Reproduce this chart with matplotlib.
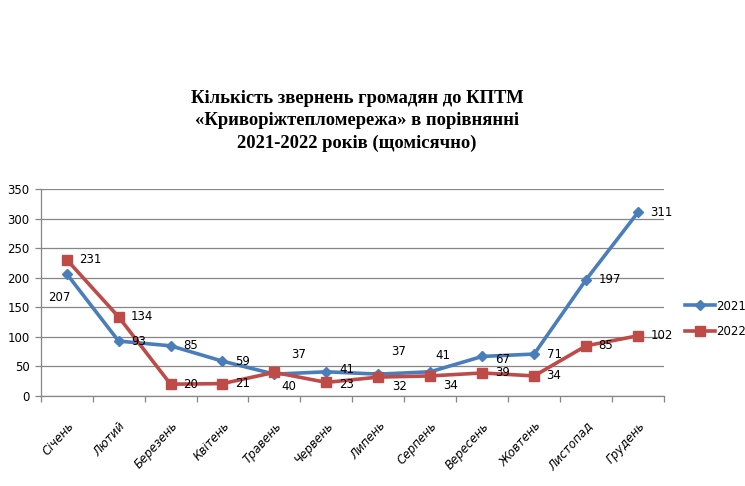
import matplotlib
matplotlib.use("Agg")
import matplotlib.pyplot as plt
from matplotlib.ticker import MultipleLocator, FixedLocator

months = ["Січень", "Лютий", "Березень", "Квітень", "Травень", "Червень",
          "Липень", "Серпень", "Вересень", "Жовтень", "Листопад", "Грудень"]
v2021 = [207, 93, 85, 59, 37, 41, 37, 41, 67, 71, 197, 311]
v2022 = [231, 134, 20, 21, 40, 23, 32, 34, 39, 34, 85, 102]
series_names = ["2021", "2022"]
title = ("Кількість звернень громадян до КПТМ\n"
         "«Криворіжтепломережа» в порівнянні\n"
         "2021-2022 років (щомісячно)")

BLUE = "#4A7EBB"
RED = "#BE4B48"
GRID = "#868686"

fig = plt.figure(figsize=(7.45, 4.86), dpi=100)
ax = fig.add_axes([40.7 / 745, 90 / 486, (664 - 40.7) / 745, (396 - 189.3) / 486])

x = list(range(len(months)))
ax.plot(x, v2021, color=BLUE, lw=2.6, marker="D", ms=5.5, mfc=BLUE, mec=BLUE,
        label=series_names[0], zorder=3)
ax.plot(x, v2022, color=RED, lw=2.6, marker="s", ms=7.5, mfc=RED, mec=RED,
        label=series_names[1], zorder=4)

ax.set_xlim(-0.5, len(months) - 0.5)
ax.set_ylim(0, 350)
ax.yaxis.set_major_locator(MultipleLocator(50))
ax.grid(axis="y", color=GRID, lw=0.9)
ax.set_axisbelow(True)

for s in ["top", "right"]:
    ax.spines[s].set_visible(False)
for s in ["left", "bottom"]:
    ax.spines[s].set_color(GRID)
    ax.spines[s].set_linewidth(0.9)

ax.xaxis.set_major_locator(FixedLocator(x))
ax.xaxis.set_minor_locator(FixedLocator([i - 0.5 for i in range(len(months) + 1)]))
ax.tick_params(axis="x", which="major", length=0, pad=17)
ax.tick_params(axis="x", which="minor", length=4, color=GRID, width=0.9)
ax.tick_params(axis="y", length=4, color=GRID, width=0.9, labelsize=8.5, pad=4)
ax.set_xticklabels(months, rotation=48, ha="right", va="top", fontsize=8.5,
                   style="italic", rotation_mode="anchor")

# data labels: offsets in points (dx, dy)
def_off = (9, 0)
off2021 = {0: (-13, -17), 4: (12, 14), 5: (9, 1.5), 6: (9, 16), 7: (4, 12), 8: (9, -2)}
off2022 = {4: (5, -10), 5: (9, -1.5), 6: (10, -7), 7: (9, -7)}
for i, v in enumerate(v2021):
    dx, dy = off2021.get(i, def_off)
    ax.annotate(str(v), (i, v), xytext=(dx, dy), textcoords="offset points",
                ha="left", va="center", fontsize=8.5, zorder=6)
for i, v in enumerate(v2022):
    dx, dy = off2022.get(i, def_off)
    ax.annotate(str(v), (i, v), xytext=(dx, dy), textcoords="offset points",
                ha="left", va="center", fontsize=8.5, zorder=6)

leg = fig.legend(loc="center left", bbox_to_anchor=(680 / 745, 1 - 319 / 486),
                 frameon=False, fontsize=8.5, handlelength=2.6, handletextpad=0.1,
                 labelspacing=1.1, borderaxespad=0)

fig.text(357 / 745, 1 - 121 / 486, title, ha="center", va="center",
         fontsize=13.4, fontweight="bold", family="Liberation Serif",
         linespacing=1.42)

fig.savefig("out.png", dpi=100)
